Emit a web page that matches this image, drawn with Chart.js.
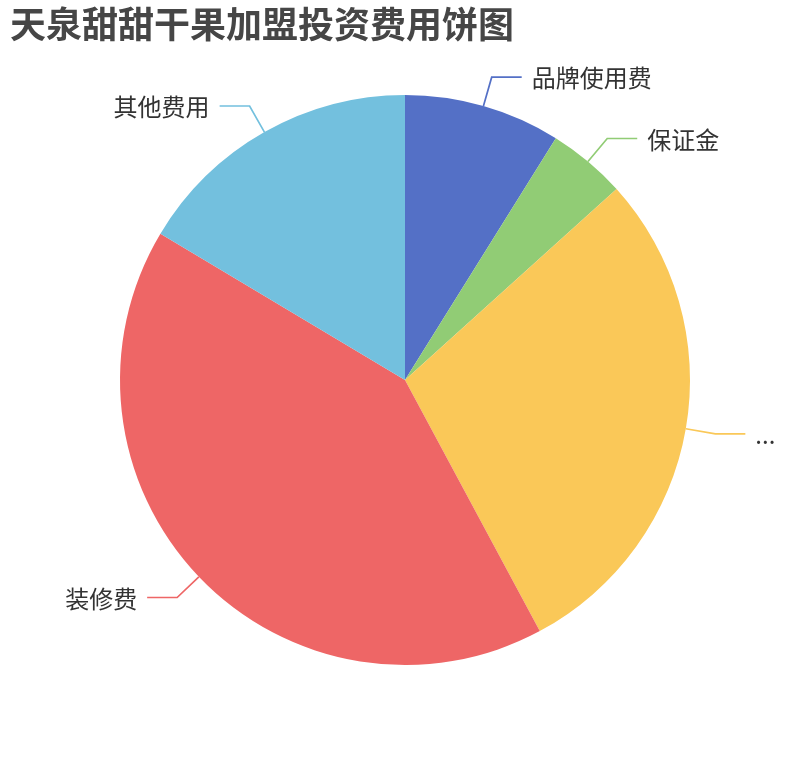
<!DOCTYPE html>
<html>
<head>
<meta charset="utf-8">
<script src="https://cdn.jsdelivr.net/npm/chart.js@4/dist/chart.umd.min.js"></script>
<style>
html,body{margin:0;padding:0;background:#fff;}
#wrap{width:810px;height:760px;}
</style>
</head>
<body>
<div id="wrap"><canvas id="c" width="810" height="760"></canvas></div>
<script>
const titleText = '天泉甜甜干果加盟投资费用饼图';
const categories = ['品牌使用费', '保证金', '...', '装修费', '其他费用'];
const values = [3, 1.5, 9.75, 14, 5.55];
const colors = ['#5470c6', '#91cc75', '#fac858', '#ee6666', '#73c0de'];

const FONT = '"Noto Sans CJK SC", "Noto Sans", sans-serif';

const outsideLabels = {
  id: 'outsideLabels',
  afterDatasetsDraw(chart) {
    const ctx = chart.ctx;
    const meta = chart.getDatasetMeta(0);
    ctx.save();
    meta.data.forEach((arc, i) => {
      const p = arc.getProps(['x', 'y', 'startAngle', 'endAngle', 'outerRadius'], true);
      const mid = (p.startAngle + p.endAngle) / 2;
      const cx = Math.cos(mid), cy = Math.sin(mid);
      const x0 = p.x + cx * p.outerRadius, y0 = p.y + cy * p.outerRadius;
      const x1 = p.x + cx * (p.outerRadius + 30), y1 = p.y + cy * (p.outerRadius + 30);
      const right = cx >= 0;
      const x2 = x1 + (right ? 30 : -30);
      ctx.strokeStyle = colors[i];
      ctx.lineWidth = 1.7;
      ctx.beginPath();
      ctx.moveTo(x0, y0);
      ctx.lineTo(x1, y1);
      ctx.lineTo(x2, y1);
      ctx.stroke();
      ctx.fillStyle = '#333';
      ctx.font = '24px ' + FONT;
      ctx.textBaseline = 'middle';
      ctx.textAlign = right ? 'left' : 'right';
      ctx.fillText(chart.data.labels[i], x2 + (right ? 10 : -10), y1 + 1);
    });
    ctx.restore();
  }
};

new Chart(document.getElementById('c'), {
  type: 'pie',
  data: {
    labels: categories,
    datasets: [{
      data: values,
      backgroundColor: colors,
      borderWidth: 0,
      hoverOffset: 0,
      offset: 0
    }]
  },
  options: {
    responsive: false,
    animation: false,
    devicePixelRatio: 1,
    layout: { padding: { top: 0, bottom: 95, left: 10, right: 10 } },
    plugins: {
      legend: { display: false },
      tooltip: { enabled: false },
      title: {
        display: true,
        text: titleText,
        align: 'start',
        color: '#464646',
        font: { size: 36, weight: 'bold', family: FONT, lineHeight: 1.2 },
        padding: { top: 3, bottom: 48.8 }
      }
    }
  },
  plugins: [outsideLabels]
});
</script>
</body>
</html>
